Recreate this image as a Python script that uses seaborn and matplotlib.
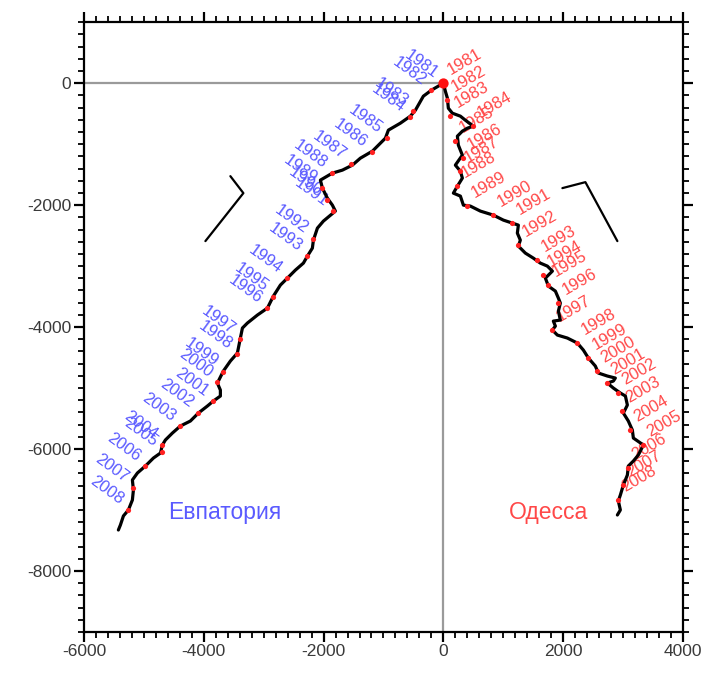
import numpy as np
import pandas as pd
import matplotlib
matplotlib.use("Agg")
import matplotlib.pyplot as plt
from matplotlib.ticker import MultipleLocator
import seaborn as sns

# ---------------- data ----------------
years = list(range(1981, 2009))

# Евпатория cumulative curve
evp_x = [0, -200, -334, -467, -551, -718, -918, -968, -1185, -1386, -1519, -1686, -1853,
         -2053, -2020, -1937, -1853, -1803, -2003, -2103, -2170, -2187, -2270, -2337, -2471,
         -2604, -2721, -2838, -2938, -3105, -3272, -3355, -3389, -3439, -3556, -3673, -3773,
         -3723, -3723, -3840, -3940, -4090, -4224, -4391, -4524, -4641, -4691, -4724, -4841,
         -4975, -5108, -5192, -5175, -5192, -5259, -5342, -5392, -5426]
evp_y = [0, -115, -213, -443, -541, -656, -770, -902, -1115, -1230, -1344, -1426, -1475,
         -1590, -1721, -1885, -2000, -2098, -2262, -2377, -2574, -2705, -2836, -2951, -3066,
         -3197, -3311, -3492, -3689, -3803, -3934, -4016, -4180, -4426, -4557, -4721, -4918,
         -5033, -5131, -5213, -5295, -5410, -5541, -5623, -5738, -5852, -5934, -6066, -6148,
         -6279, -6393, -6508, -6672, -6836, -7000, -7098, -7246, -7328]

# Евпатория year markers
evp_dot_x = [0, -200, -501, -551, -935, -1185, -1536, -1853, -2020, -1937, -1836, -2170,
             -2270, -2604, -2838, -2938, -3389, -3439, -3673, -3773, -3840, -4090, -4391,
             -4691, -4691, -4975, -5175, -5259]
evp_dot_y = [0, -115, -459, -557, -902, -1131, -1328, -1475, -1721, -1918, -2098, -2557,
             -2836, -3197, -3508, -3689, -4197, -4443, -4738, -4902, -5213, -5410, -5623,
             -5934, -6049, -6279, -6639, -7000]

# Одесса cumulative curve
ode_x = [0, 33, 67, 83, 150, 284, 367, 501, 401, 317, 234, 250, 317, 200, 284, 317, 234,
         167, 284, 334, 451, 618, 835, 1002, 1152, 1252, 1235, 1285, 1252, 1369, 1502, 1619,
         1736, 1820, 1703, 1753, 1870, 1920, 1953, 1920, 1953, 1836, 1870, 1820, 1903, 2070,
         2237, 2337, 2421, 2537, 2588, 2738, 2871, 2838, 2738, 2838, 2955, 3039, 3072, 3005,
         3088, 3155, 3172, 3339, 3255, 3172, 3088, 3072, 3005, 2955, 2921, 2955, 2905]
ode_y = [0, -131, -246, -410, -492, -541, -607, -705, -738, -787, -869, -1016, -1180, -1344,
         -1443, -1557, -1689, -1803, -1852, -2000, -2016, -2098, -2164, -2246, -2295, -2328,
         -2459, -2574, -2672, -2787, -2869, -2951, -3000, -3082, -3197, -3328, -3410, -3525,
         -3607, -3738, -3885, -3902, -3984, -4049, -4131, -4180, -4262, -4377, -4508, -4639,
         -4754, -4803, -4836, -4885, -4918, -5000, -5082, -5131, -5279, -5410, -5541, -5689,
         -5820, -5934, -6098, -6197, -6279, -6426, -6590, -6754, -6852, -7000, -7082]

# Одесса year markers
ode_dot_x = [0, 67, 117, 501, 200, 334, 284, 234, 401, 835, 1152, 1252, 1569, 1669, 1753,
             1920, 1820, 2237, 2421, 2571, 2738, 2921, 2988, 3122, 3339, 3088, 3005, 2921]
ode_dot_y = [0, -279, -541, -705, -951, -1230, -1443, -1689, -2016, -2164, -2295, -2656,
             -2902, -3148, -3311, -3607, -4049, -4262, -4508, -4721, -4918, -5082, -5377,
             -5689, -5934, -6311, -6590, -6836]

# angle marks
left_mark_x = [-3556, -3339, -3973]
left_mark_y = [-1525, -1803, -2590]
right_mark_x = [1987, 2371, 2905]
right_mark_y = [-1721, -1623, -2590]

station_names = ["Евпатория", "Одесса"]
station_pos_x = [-3656, 1753]
station_pos_y = [-7033, -7033]

xticks = [-6000, -4000, -2000, 0, 2000, 4000]
yticks = [-8000, -6000, -4000, -2000, 0]

# ---------------- plot ----------------
sns.set_theme(style="ticks")
plt.rcParams["font.family"] = ["Liberation Sans", "DejaVu Sans"]
plt.rcParams["axes.unicode_minus"] = False

BLUE = "#5a5aff"
RED = "#ff4848"

fig = plt.figure(figsize=(7.07, 6.73), dpi=100)
ax = fig.add_axes([0.1188, 0.061, 0.8472, 0.906])

ax.set_xlim(-6000, 4000)
ax.set_ylim(-9000, 1000)

# reference lines
ax.hlines(0, -6000, 0, color="#9a9a9a", lw=1.6, zorder=1)
ax.vlines(0, -9000, 0, color="#9a9a9a", lw=1.6, zorder=1)

df_e = pd.DataFrame({"x": evp_x, "y": evp_y})
df_o = pd.DataFrame({"x": ode_x, "y": ode_y})
sns.lineplot(data=df_e, x="x", y="y", sort=False, estimator=None, color="black",
             lw=2.3, ax=ax, zorder=3)
sns.lineplot(data=df_o, x="x", y="y", sort=False, estimator=None, color="black",
             lw=2.3, ax=ax, zorder=3)

dots_e = pd.DataFrame({"x": evp_dot_x[1:], "y": evp_dot_y[1:]})
dots_o = pd.DataFrame({"x": ode_dot_x[1:], "y": ode_dot_y[1:]})
sns.scatterplot(data=dots_e, x="x", y="y", color="#ff2020", s=14, linewidth=0, ax=ax, zorder=4)
sns.scatterplot(data=dots_o, x="x", y="y", color="#ff2020", s=14, linewidth=0, ax=ax, zorder=4)
ax.scatter([evp_dot_x[0]], [evp_dot_y[0]], color="#ff1010", s=55, lw=0, zorder=5)

# angle marks
ax.plot(left_mark_x, left_mark_y, color="black", lw=1.6, zorder=3)
ax.plot(right_mark_x, right_mark_y, color="black", lw=1.6, zorder=3)

# year labels
for yr, xv, yv in zip(years, evp_dot_x, evp_dot_y):
    ax.annotate(str(yr), (xv, yv), xytext=(-5, 6), textcoords="offset points",
                rotation=-36, rotation_mode="anchor", ha="right", va="center",
                color=BLUE, fontsize=12, zorder=2)
for yr, xv, yv in zip(years, ode_dot_x, ode_dot_y):
    ax.annotate(str(yr), (xv, yv), xytext=(5, 6), textcoords="offset points",
                rotation=30, rotation_mode="anchor", ha="left", va="baseline",
                color=RED, fontsize=12, zorder=2)

for name, xv, yv, c in zip(station_names, station_pos_x, station_pos_y, [BLUE, RED]):
    ax.text(xv, yv, name, color=c, fontsize=16.5, ha="center", va="center")

# axes styling
ax.set_xticks(xticks)
ax.set_yticks(yticks)
ax.xaxis.set_minor_locator(MultipleLocator(200))
ax.yaxis.set_minor_locator(MultipleLocator(200))
ax.tick_params(which="major", direction="out", length=7, width=1.6, top=True, right=True,
               labelsize=12.5, labelcolor="#3a3a3a", color="black", pad=2)
ax.tick_params(which="minor", direction="out", length=4, width=1.3, top=True, right=True,
               color="black")
for s in ax.spines.values():
    s.set_visible(True)
    s.set_linewidth(1.6)
    s.set_color("black")
ax.set_xlabel("")
ax.set_ylabel("")
ax.grid(False)

fig.savefig("out.png", dpi=100, facecolor="white")
